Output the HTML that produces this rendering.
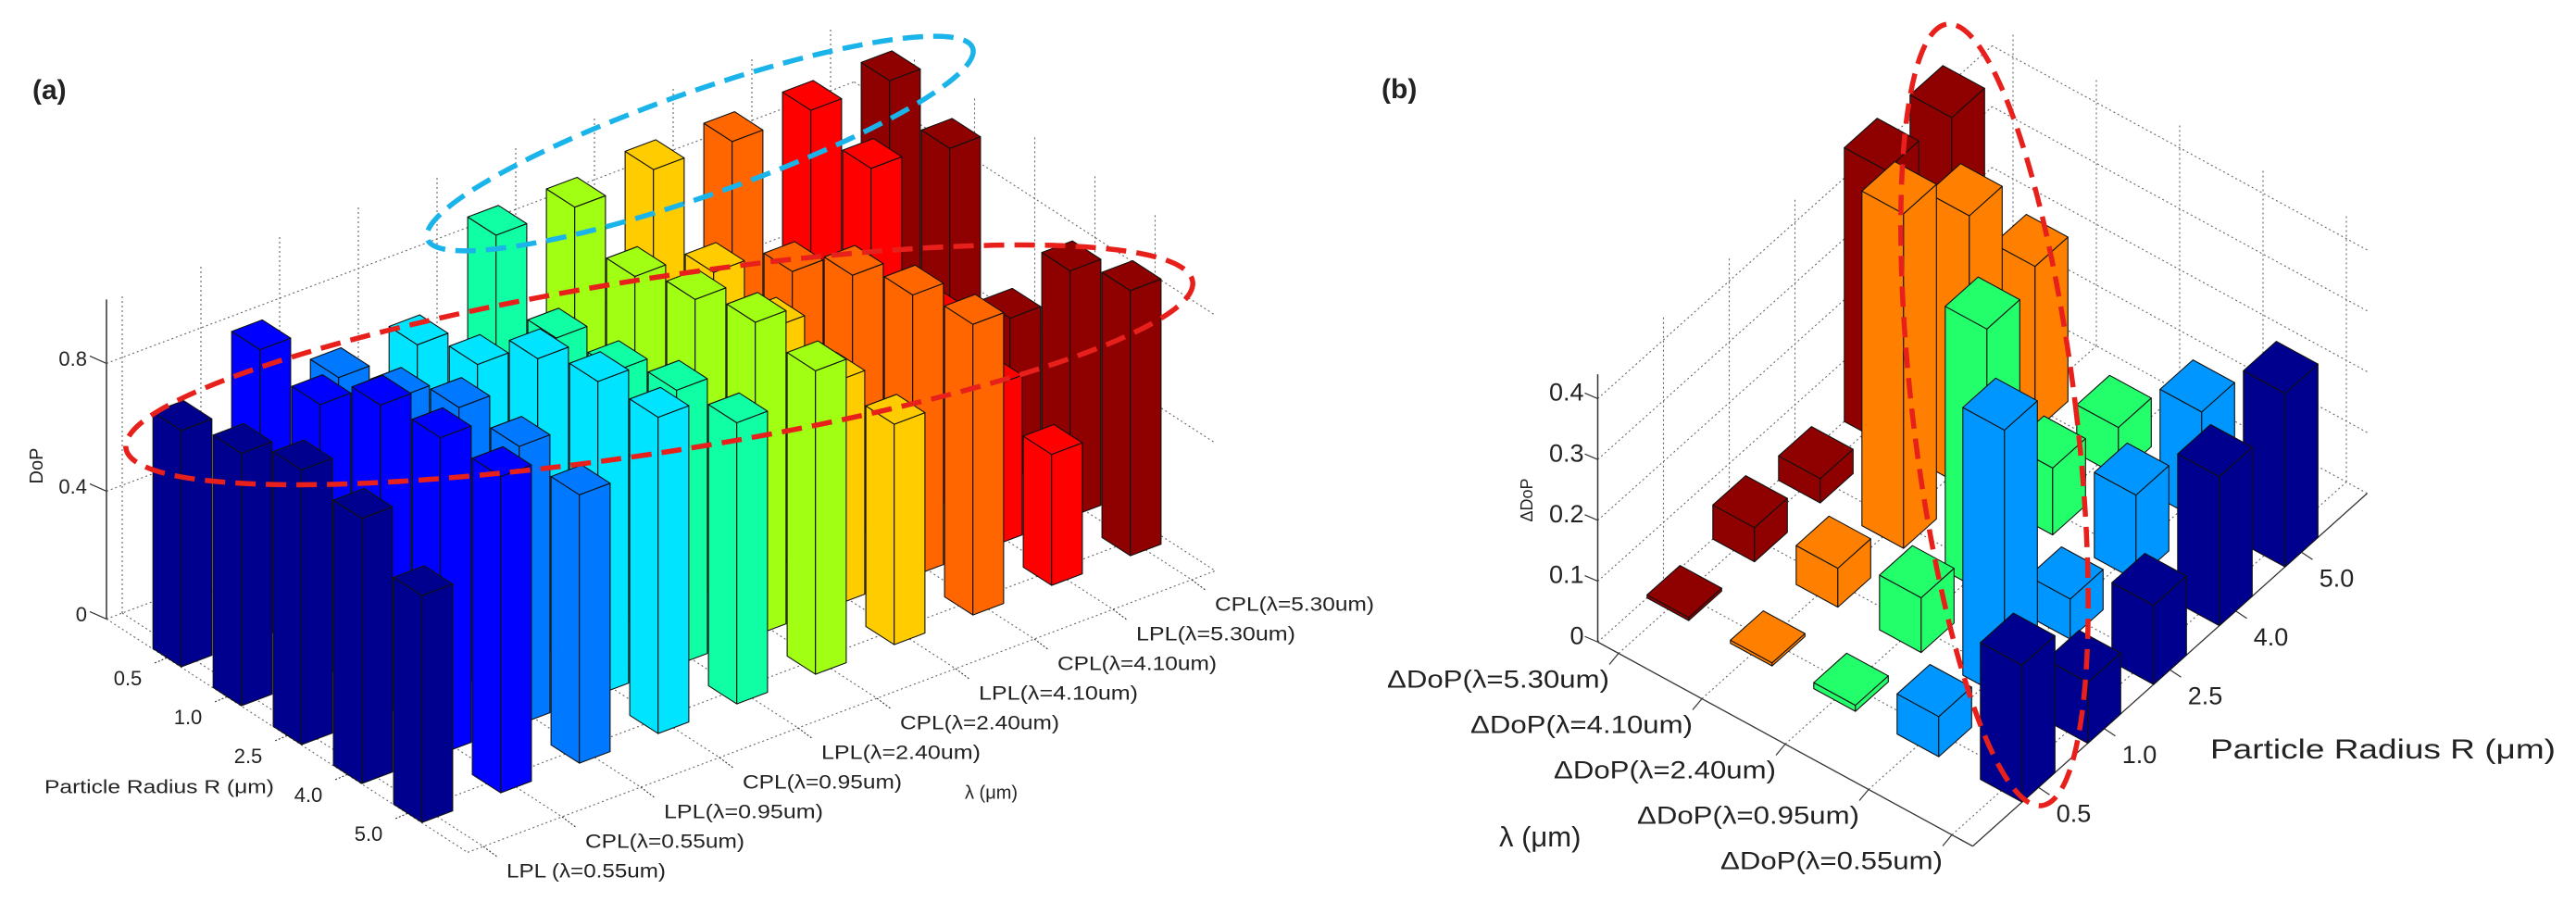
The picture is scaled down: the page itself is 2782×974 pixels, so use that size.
<!DOCTYPE html>
<html>
<head>
<meta charset="utf-8">
<style>
  html,body{margin:0;padding:0;background:#fff;}
  svg{display:block;}
  text{font-family:"Liberation Sans",sans-serif;fill:#222;}
</style>
</head>
<body>
<svg id="fig" width="2782" height="974" viewBox="0 0 2782 974" xmlns="http://www.w3.org/2000/svg">
  <rect x="0" y="0" width="2782" height="974" fill="#fff"/>
  <g id="chartA"></g>
  <g id="chartB"></g>
</svg>
<script>
// ---------- Chart (a) data ----------
const catsA = ["LPL (\u03bb=0.55um)","CPL(\u03bb=0.55um)","LPL(\u03bb=0.95um)","CPL(\u03bb=0.95um)","LPL(\u03bb=2.40um)","CPL(\u03bb=2.40um)","LPL(\u03bb=4.10um)","CPL(\u03bb=4.10um)","LPL(\u03bb=5.30um)","CPL(\u03bb=5.30um)"];
const radiiA = ["0.5","1.0","2.5","4.0","5.0"];
const zTicksA = [0, 0.4, 0.8];
const zTickLabelsA = ["0","0.4","0.8"];
const dopLPL055 = [0.74,0.79,0.86,0.83,0.71];
const dopCPL055 = [0.90,0.85,0.97,0.99,0.99];
const dopLPL095 = [0.72,0.78,0.87,0.87,0.84];
const dopCPL095 = [0.73,0.79,0.93,0.98,0.99];
const dopLPL240 = [0.98,0.78,0.80,0.86,0.88];
const dopCPL240 = [0.975,0.88,0.93,0.98,0.95];
const dopLPL410 = [1.0,0.80,0.75,0.70,0.69];
const dopCPL410 = [0.995,0.71,0.82,0.88,0.91];
const dopLPL530 = [1.0,0.94,0.60,0.50,0.41];
const dopCPL530 = [1.0,0.91,0.50,0.77,0.83];
const colorsA = ["#00008f","#0000ff","#0078ff","#00e4ff","#10ffa4","#a0ff12","#ffcc00","#ff6600","#ff0000","#8f0000"];

// ---------- Chart (b) data ----------
const catsB = ["\u0394DoP(\u03bb=0.55um)","\u0394DoP(\u03bb=0.95um)","\u0394DoP(\u03bb=2.40um)","\u0394DoP(\u03bb=4.10um)","\u0394DoP(\u03bb=5.30um)"];
const radiiB = ["0.5","1.0","2.5","4.0","5.0"];
const zTicksB = [0, 0.1, 0.2, 0.3, 0.4];
const zTickLabelsB = ["0","0.1","0.2","0.3","0.4"];
const dDoP055 = [0.225,0.10,0.13,0.245,0.285];
const dDoP095 = [0.066,0.44,0.066,0.14,0.18];
const dDoP240 = [0.01,0.09,0.435,0.11,0.08];
const dDoP410 = [0.005,0.064,0.55,0.45,0.27];
const dDoP530 = [0.005,0.056,0.04,0.45,0.44];
const colorsB = ["#00008f","#0096ff","#22ff6a","#ff8000","#8f0000"];

const NS = "http://www.w3.org/2000/svg";
function mk(tag, attrs, parent){
  const e = document.createElementNS(NS, tag);
  for (const k in attrs) e.setAttribute(k, attrs[k]);
  parent.appendChild(e);
  return e;
}
function pts(a){ return a.map(p => p[0].toFixed(1)+","+p[1].toFixed(1)).join(" "); }

// ================= Chart (a) =================
const gA = document.getElementById("chartA");
const A = {O:[122,699], ex:[85,-32], ey:[65,42], zs:345, xmin:0.3, xmax:9.8, ymin:-0.5, ymax:5.5, zmax:1.0};
function PA(x,y,z){ return [A.O[0]+x*A.ex[0]+y*A.ey[0], A.O[1]+x*A.ex[1]+y*A.ey[1]-z*A.zs]; }

const gridA = mk("g", {}, gA);


function dl(g, p, q, solid){
  const l = mk("line", {x1:p[0],y1:p[1],x2:q[0],y2:q[1],stroke: solid?"#333":"#666","stroke-width": solid?1.3:1.1,"stroke-dasharray": solid?"none":"2 3"}, g);
  
  
  return l;
}
for (let i=0;i<catsA.length;i++){
  const x=i+0.5;
  dl(gridA, PA(x,A.ymin,0), PA(x,A.ymin,A.zmax));
  dl(gridA, PA(x,A.ymin,0), PA(x,A.ymax,0));
}
for (let j=0;j<radiiA.length;j++){
  const y=j+0.5;
  dl(gridA, PA(A.xmax,y,0), PA(A.xmax,y,A.zmax));
  dl(gridA, PA(A.xmin,y,0), PA(A.xmax,y,0));
}
zTicksA.forEach(z=>{
  dl(gridA, PA(A.xmin,A.ymin,z), PA(A.xmax,A.ymin,z));
  dl(gridA, PA(A.xmax,A.ymin,z), PA(A.xmax,A.ymax,z));
});
dl(gridA, PA(A.xmin,A.ymax,0), PA(A.xmax,A.ymax,0));
dl(gridA, PA(A.xmin,A.ymin,0), PA(A.xmin,A.ymax,0));
// z axis
const zaxA = mk("line", {x1:PA(A.xmin,A.ymin,0)[0],y1:PA(A.xmin,A.ymin,0)[1],x2:PA(A.xmin,A.ymin,A.zmax)[0],y2:PA(A.xmin,A.ymin,A.zmax)[1],stroke:"#333","stroke-width":1.5}, gA);



zTicksA.forEach((z,k)=>{
  const p = PA(A.xmin,A.ymin,z);
  const tk = mk("line", {x1:p[0]-18,y1:p[1]-8,x2:p[0],y2:p[1],stroke:"#333","stroke-width":1.2}, gA);
  
  
  const t = mk("text", {x:p[0]-21,y:p[1]-3,"font-size":22,"text-anchor":"end","dominant-baseline":"middle"}, gA);
  t.textContent = zTickLabelsA[k];
  
  
});
radiiA.forEach((r,j)=>{
  const p = PA(A.xmin,j+0.5,0);
  const tk = mk("line", {x1:p[0],y1:p[1],x2:p[0]-14,y2:p[1]+6,stroke:"#333","stroke-width":1.1,"stroke-dasharray":"2 2"}, gA);
  
  
  const t = mk("text", {x:p[0]-42,y:p[1]+24,"font-size":22,"text-anchor":"middle","dominant-baseline":"middle"}, gA);
  t.textContent = r;
  
  
});
catsA.forEach((c,i)=>{
  const p = PA(i+0.5,A.ymax,0);
  const tk = mk("line", {x1:p[0],y1:p[1],x2:p[0]+16,y2:p[1]+12,stroke:"#333","stroke-width":1.1,"stroke-dasharray":"2 2"}, gA);
  
  
  const t = mk("text", {x:p[0]+25,y:p[1]+28,"font-size":21,"text-anchor":"start","dominant-baseline":"middle",textLength:172,lengthAdjust:"spacingAndGlyphs"}, gA);
  t.textContent = c;
  
  
});

function barA(x0, y0, v, color, name){
  const hx=0.195, hy=0.235;
  const g = mk("g", {}, gA);
  
  
  const a=x0-hx, b=x0+hx, c=y0-hy, d=y0+hy;
  const st = {fill:color, stroke:"#111", "stroke-width":1.1, "stroke-linejoin":"round"};
  const left = mk("polygon", Object.assign({points:pts([PA(a,c,0),PA(a,d,0),PA(a,d,v),PA(a,c,v)])}, st), g);
  
  
  const right = mk("polygon", Object.assign({points:pts([PA(a,d,0),PA(b,d,0),PA(b,d,v),PA(a,d,v)])}, st), g);
  
  
  const top = mk("polygon", Object.assign({points:pts([PA(a,c,v),PA(b,c,v),PA(b,d,v),PA(a,d,v)])}, st), g);
  
  
}
const seriesA = [dopLPL055,dopCPL055,dopLPL095,dopCPL095,dopLPL240,dopCPL240,dopLPL410,dopCPL410,dopLPL530,dopCPL530];
const listA = [];
seriesA.forEach((s,i)=> s.forEach((v,j)=> listA.push({i,j,v})));
listA.sort((p,q)=> ((p.j+0.5)-(p.i+0.5)) - ((q.j+0.5)-(q.i+0.5)) || (q.i - p.i));
listA.forEach(o=> barA(o.i+0.5, o.j+0.5, o.v, colorsA[o.i], "bar-a-"+o.i+"-"+o.j));

// labels (a)
let t;
t = mk("text", {x:35,y:107,"font-size":30,"font-weight":"bold","font-family":"Liberation Serif, serif"}, gA);
t.textContent = "(a)";


t = mk("text", {x:0,y:0,"font-size":20,"text-anchor":"middle",transform:"translate(46,503) rotate(-90)"}, gA);
t.textContent = "DoP";


t = mk("text", {x:48,y:851,"font-size":20,"dominant-baseline":"middle",textLength:248,lengthAdjust:"spacingAndGlyphs"}, gA);
t.textContent = "Particle Radius R (\u03bcm)";


t = mk("text", {x:1042,y:857,"font-size":20,"dominant-baseline":"middle"}, gA);
t.textContent = "\u03bb (\u03bcm)";



// ellipses (a)
const elB = mk("ellipse", {cx:756,cy:155,rx:312,ry:56,fill:"none",stroke:"#1ab4ea","stroke-width":5.5,"stroke-dasharray":"22 11",transform:"rotate(-19.3 756 155)"}, gA);


const elR = mk("ellipse", {cx:712,cy:394,rx:583,ry:94,fill:"none",stroke:"#e8201c","stroke-width":5.5,"stroke-dasharray":"22 11",transform:"rotate(-8.9 712 394)"}, gA);



// ================= Chart (b) =================
const gB = document.getElementById("chartB");
const B = {O:[2179,838], eu:[-90,-49], er:[71,-63.5], zs:657, umin:-0.25, umax:4.25, rmin:-1.0, rmax:5.0, zmax:0.44};
function PB(u,r,z){ return [B.O[0]+u*B.eu[0]+r*B.er[0], B.O[1]+u*B.eu[1]+r*B.er[1]-z*B.zs]; }

const gridB = mk("g", {}, gB);


for (let u=0; u<catsB.length; u++){
  dl(gridB, PB(u,B.rmax,0), PB(u,B.rmax,B.zmax));
  dl(gridB, PB(u,B.rmin,0), PB(u,B.rmax,0));
}
for (let r=0; r<radiiB.length; r++){
  dl(gridB, PB(B.umax,r,0), PB(B.umax,r,B.zmax));
  dl(gridB, PB(B.umin,r,0), PB(B.umax,r,0));
}
zTicksB.forEach(z=>{
  dl(gridB, PB(B.umax,B.rmin,z), PB(B.umax,B.rmax,z));
  dl(gridB, PB(B.umin,B.rmax,z), PB(B.umax,B.rmax,z));
});
dl(gridB, PB(B.umin,B.rmin,0), PB(B.umax,B.rmin,0), true);
dl(gridB, PB(B.umin,B.rmin,0), PB(B.umin,B.rmax,0), true);
const zaxB = mk("line", {x1:PB(B.umax,B.rmin,0)[0],y1:PB(B.umax,B.rmin,0)[1],x2:PB(B.umax,B.rmin,B.zmax)[0],y2:PB(B.umax,B.rmin,B.zmax)[1],stroke:"#333","stroke-width":1.5}, gB);



zTicksB.forEach((z,k)=>{
  const p = PB(B.umax,B.rmin,z);
  const tk = mk("line", {x1:p[0]-14,y1:p[1]-6,x2:p[0],y2:p[1],stroke:"#333","stroke-width":1.2}, gB);
  
  
  const tt = mk("text", {x:p[0]-15,y:p[1]-5,"font-size":27,"text-anchor":"end","dominant-baseline":"middle"}, gB);
  tt.textContent = zTickLabelsB[k];
  
  
});
catsB.forEach((c,u)=>{
  const p = PB(u,B.rmin,0);
  const tk = mk("line", {x1:p[0],y1:p[1],x2:p[0]-10,y2:p[1]+12,stroke:"#333","stroke-width":1.2}, gB);
  
  
  const tt = mk("text", {x:p[0]-10,y:p[1]+30,"font-size":27,"text-anchor":"end","dominant-baseline":"middle",textLength:240,lengthAdjust:"spacingAndGlyphs"}, gB);
  tt.textContent = c;
  
  
});
radiiB.forEach((r,k)=>{
  const p = PB(B.umin,k,0);
  const tk = mk("line", {x1:p[0],y1:p[1],x2:p[0]+12,y2:p[1]+8,stroke:"#333","stroke-width":1.2}, gB);
  
  
  const tt = mk("text", {x:p[0]+38,y:p[1]+30,"font-size":27,"text-anchor":"middle","dominant-baseline":"middle"}, gB);
  tt.textContent = r;
  
  
});

function barB(u0, r0, v, color, name){
  const h=0.25;
  const g = mk("g", {}, gB);
  
  
  const a=u0-h, b=u0+h, c=r0-h, d=r0+h;
  const st = {fill:color, stroke:"#111", "stroke-width":1.1, "stroke-linejoin":"round"};
  const f1 = mk("polygon", Object.assign({points:pts([PB(a,c,0),PB(b,c,0),PB(b,c,v),PB(a,c,v)])}, st), g);
  
  
  const f2 = mk("polygon", Object.assign({points:pts([PB(a,c,0),PB(a,d,0),PB(a,d,v),PB(a,c,v)])}, st), g);
  
  
  const tp = mk("polygon", Object.assign({points:pts([PB(a,c,v),PB(b,c,v),PB(b,d,v),PB(a,d,v)])}, st), g);
  
  
}
const seriesB = [dDoP055,dDoP095,dDoP240,dDoP410,dDoP530];
const listB = [];
seriesB.forEach((s,u)=> s.forEach((v,r)=> listB.push({u,r,v})));
listB.sort((p,q)=> (q.u+q.r) - (p.u+p.r));
listB.forEach(o=> barB(o.u, o.r, o.v, colorsB[o.u], "bar-b-"+o.u+"-"+o.r));

t = mk("text", {x:1492,y:106,"font-size":30,"font-weight":"bold","font-family":"Liberation Serif, serif"}, gB);
t.textContent = "(b)";


t = mk("text", {x:0,y:0,"font-size":18,"text-anchor":"middle",transform:"translate(1655,540) rotate(-90)"}, gB);
t.textContent = "\u0394DoP";


t = mk("text", {x:1619,y:906,"font-size":31,"dominant-baseline":"middle"}, gB);
t.textContent = "\u03bb (\u03bcm)";


t = mk("text", {x:2387,y:811,"font-size":30,"dominant-baseline":"middle",textLength:373,lengthAdjust:"spacingAndGlyphs"}, gB);
t.textContent = "Particle Radius R (\u03bcm)";



const elRb = mk("ellipse", {cx:2154,cy:448,rx:88,ry:425,fill:"none",stroke:"#e8201c","stroke-width":5.5,"stroke-dasharray":"22 11",transform:"rotate(-6.9 2154 448)"}, gB);


</script>
</body>
</html>
